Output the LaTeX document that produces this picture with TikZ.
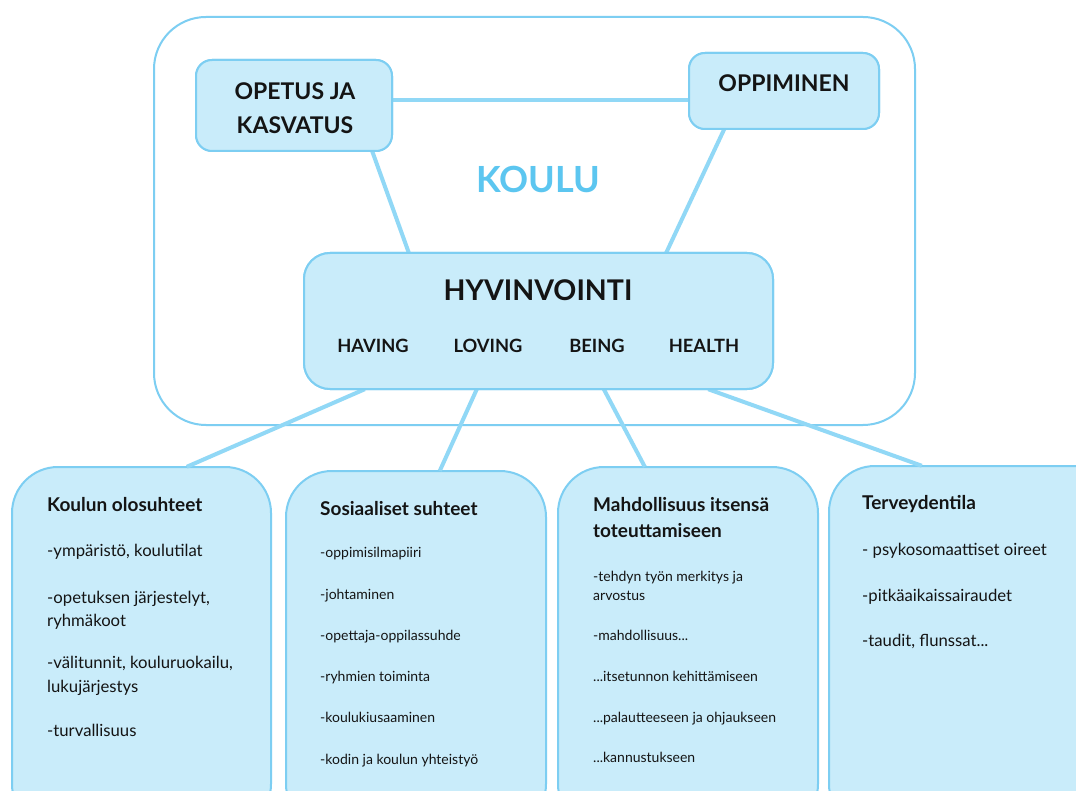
\documentclass[tikz,border=0pt]{standalone}
\usepackage{fontspec}
\setmainfont{Lato}
\usetikzlibrary{calc}
\definecolor{boxfill}{RGB}{201,236,250}
\definecolor{boxline}{RGB}{125,206,242}
\definecolor{conn}{RGB}{145,216,246}
\definecolor{koulu}{RGB}{92,198,240}
\definecolor{ink}{RGB}{20,20,20}
\tikzset{
  x=1pt,y=-1pt,
  lbox/.style={draw=boxline,fill=boxfill,line width=2pt,rounded corners=#1,inner sep=0pt},
  outerbox/.style={draw=boxline,line width=2pt,rounded corners=52pt},
  link/.style={draw=conn,line width=4pt},
  captext/.style={font=\fontsize{23}{26}\selectfont\bfseries,text=ink,align=center},
  subcap/.style={font=\fontsize{18.3}{21}\selectfont\bfseries,text=ink},
  ttl/.style={anchor=base west,font=\fontsize{19}{22}\selectfont\bfseries,text=ink,inner sep=0pt},
  itm/.style={anchor=base west,font=\fontsize{16.7}{19}\selectfont,text=ink,inner sep=0pt},
  sitm/.style={anchor=base west,font=\fontsize{14}{16}\selectfont,text=ink,inner sep=0pt},
}
\begin{document}
\begin{tikzpicture}
\useasboundingbox (0,0) rectangle (1076,791);
\clip (0,0) rectangle (1076,791);
\fill[white] (0,0) rectangle (1076,791);
% outer school frame
\draw[outerbox] (154,17) rectangle (915,425);
% boxes
\path[lbox=16pt] (196,60) rectangle (392,151);
\node (opetus) at (294,105.5) [minimum width=196,minimum height=91,inner sep=0pt] {};
\path[lbox=16pt] (689,53) rectangle (879,129);
\node (oppi) at (784,91) [minimum width=190,minimum height=76,inner sep=0pt] {};
\path[lbox=26pt] (304,253) rectangle (773,389);
\node (hyv) at (538.5,321) [minimum width=469,minimum height=136,inner sep=0pt] {};
% bottom boxes
\path[lbox=46pt] (12,467) rectangle (271,830);
\node (b1) at (141.5,648.5) [minimum width=259,minimum height=363,inner sep=0pt] {};
\path[lbox=46pt] (286,471) rectangle (546,830);
\node (b2) at (416,650.5) [minimum width=260,minimum height=359,inner sep=0pt] {};
\path[lbox=46pt] (558,467) rectangle (818,830);
\node (b3) at (688,648.5) [minimum width=260,minimum height=363,inner sep=0pt] {};
\path[lbox=46pt] (829,466) rectangle (1120,830);
\node (b4) at (974.5,648) [minimum width=291,minimum height=364,inner sep=0pt] {};
% connectors
\draw[link] (opetus.east |- 0,100) -- (oppi.west |- 0,100);
\draw[link] ([xshift=-20pt]opetus.south east) -- ([xshift=105pt]hyv.north west);
\draw[link] ([xshift=-155pt]oppi.south east) -- ([xshift=-107pt]hyv.north east);
\draw[link] ([xshift=61pt]hyv.south west) -- ([xshift=175pt]b1.north west);
\draw[link] ([xshift=173pt]hyv.south west) -- ([xshift=154pt]b2.north west);
\draw[link] ([xshift=300pt]hyv.south west) -- ([xshift=87pt]b3.north west);
\draw[link] ([xshift=-65pt]hyv.south east) -- ([xshift=93pt]b4.north west);
% redraw boxes on top of connector ends
\path[lbox=16pt] (196,60) rectangle (392,151);
\path[lbox=16pt] (689,53) rectangle (879,129);
\path[lbox=26pt] (304,253) rectangle (773,389);
% texts
\node[captext] (t1a) at (295,91) {OPETUS JA};
\node[captext] (t1b) at (295,125) {KASVATUS};
\node[captext] (t2) at (784,83) {OPPIMINEN};
\node[font=\fontsize{36}{40}\selectfont\bfseries,text=koulu] (t3) at (538,179) {KOULU};
\node[font=\fontsize{28.5}{32}\selectfont\bfseries,text=ink] (t4) at (538,290) {HYVINVOINTI};
\node[subcap] (h1) at (373,346) {HAVING};
\node[subcap] (h2) at (488,346) {LOVING};
\node[subcap] (h3) at (597,346) {BEING};
\node[subcap] (h4) at (704,346) {HEALTH};
% box 1
\node[ttl] (a0) at (47,511) {Koulun olosuhteet};
\node[itm] (a1) at (47,556) {-ympäristö, koulutilat};
\node[itm] (a2) at (47,603) {-opetuksen järjestelyt,};
\node[itm] (a3) at (47,626) {ryhmäkoot};
\node[itm] (a4) at (47,668) {-välitunnit, kouluruokailu,};
\node[itm] (a5) at (47,692) {lukujärjestys};
\node[itm] (a6) at (47,736) {-turvallisuus};
% box 2
\node[ttl] (b0) at (320,515) {Sosiaaliset suhteet};
\node[sitm] (bb1) at (320,557) {-oppimisilmapiiri};
\node[sitm] (bb2) at (320,599) {-johtaminen};
\node[sitm] (bb3) at (320,640) {-opettaja-oppilassuhde};
\node[sitm] (bb4) at (320,681) {-ryhmien toiminta};
\node[sitm] (bb5) at (320,722) {-koulukiusaaminen};
\node[sitm] (bb6) at (320,764) {-kodin ja koulun yhteistyö};
% box 3
\node[ttl] (c0) at (593,511) {Mahdollisuus itsensä};
\node[ttl] (c00) at (593,537) {toteuttamiseen};
\node[sitm] (c1) at (593,581) {-tehdyn työn merkitys ja};
\node[sitm] (c2) at (593,600) {arvostus};
\node[sitm] (c3) at (593,640) {-mahdollisuus...};
\node[sitm] (c4) at (593,681) {...itsetunnon kehittämiseen};
\node[sitm] (c5) at (593,722) {...palautteeseen ja ohjaukseen};
\node[sitm] (c6) at (593,762) {...kannustukseen};
% box 4
\node[ttl] (d0) at (862,509) {Terveydentila};
\node[itm] (d1) at (862,555) {- psykosomaattiset oireet};
\node[itm] (d2) at (862,601) {-pitkäaikaissairaudet};
\node[itm] (d3) at (862,646) {-taudit, flunssat...};
\end{tikzpicture}
\end{document}
